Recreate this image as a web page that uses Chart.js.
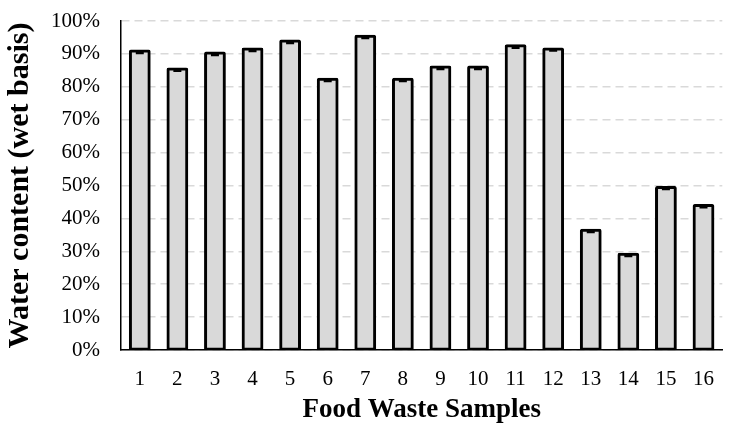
<!DOCTYPE html>
<html>
<head>
<meta charset="utf-8">
<script src="https://cdn.jsdelivr.net/npm/chart.js@4.4.1/dist/chart.umd.min.js"></script>
<style>
  html, body { margin: 0; padding: 0; background: #fff; }
  #wrap { width: 731px; height: 424px; }
</style>
</head>
<body>
<div id="wrap"><canvas id="chart"></canvas></div>
<script>
const samples = ["1","2","3","4","5","6","7","8","9","10","11","12","13","14","15","16"];
const waterContent = [90.9, 85.4, 90.3, 91.5, 93.9, 82.3, 95.4, 82.3, 86.0, 86.0, 92.5, 91.5, 36.4, 29.1, 49.4, 43.9];
const errors = [0.6, 0.5, 0.6, 0.6, 0.6, 0.5, 0.6, 0.5, 0.6, 0.6, 0.6, 0.5, 0.5, 0.5, 0.5, 0.5];

// small error caps drawn over each bar (upper half hides in the border)
const errorBars = {
  id: "errorBars",
  afterDatasetsDraw(chart) {
    const ctx = chart.ctx;
    const y = chart.scales.y;
    const meta = chart.getDatasetMeta(0);
    ctx.save();
    ctx.strokeStyle = "#000";
    ctx.lineWidth = 2.5;
    meta.data.forEach((bar, i) => {
      const v = waterContent[i];
      const top = y.getPixelForValue(v);
      const bot = y.getPixelForValue(v - errors[i]);
      ctx.beginPath();
      ctx.moveTo(bar.x, top); ctx.lineTo(bar.x, bot);
      ctx.moveTo(bar.x - 4, bot); ctx.lineTo(bar.x + 4, bot);
      ctx.stroke();
    });
    ctx.restore();
  }
};

new Chart(document.getElementById("chart"), {
  type: "bar",
  data: {
    labels: samples,
    datasets: [{
      data: waterContent,
      backgroundColor: "#d9d9d9",
      borderColor: "#000",
      borderWidth: 3,
      borderSkipped: false,
      borderRadius: 2,
      inflateAmount: 1.5, // border centred on the bar edge, like the original
      barPercentage: 0.5,
      categoryPercentage: 1,
    }],
  },
  plugins: [errorBars],
  options: {
    responsive: true,
    maintainAspectRatio: false,
    animation: false,
    events: [],
    layout: { padding: { top: 21, right: 0, left: 2, bottom: 0 } },
    scales: {
      x: {
        grid: { display: false, drawTicks: false },
        border: { color: "#000", width: 1.5 },
        ticks: { color: "#000", font: { family: "Liberation Serif", size: 21 }, padding: 17 },
        title: { display: true, text: "Food Waste Samples", color: "#000",
                 font: { family: "Liberation Serif", size: 27, weight: "bold", lineHeight: 1 },
                 padding: { top: 6, bottom: 0 } },
        afterFit: (scale) => { scale.height = 74; },
      },
      y: {
        min: 0,
        max: 100,
        ticks: { stepSize: 10, color: "#000", padding: 21,
                 font: { family: "Liberation Serif", size: 21 },
                 callback: (v) => v + "%" },
        grid: { color: "#d9d9d9", lineWidth: 1.5, drawTicks: false },
        border: { color: "#000", width: 1.5, dash: [8, 5] },
        title: { display: true, text: "Water content (wet basis)", color: "#000",
                 font: { family: "Liberation Serif", size: 30, weight: "bold", lineHeight: 1.2 },
                 padding: { top: 0, bottom: 0 } },
        afterFit: (scale) => {
          scale.width = 119;
          scale.paddingTop = 0;
          scale.paddingBottom = 0;
        },
      },
    },
    plugins: {
      legend: { display: false },
      tooltip: { enabled: false },
    },
  },
});
</script>
</body>
</html>
